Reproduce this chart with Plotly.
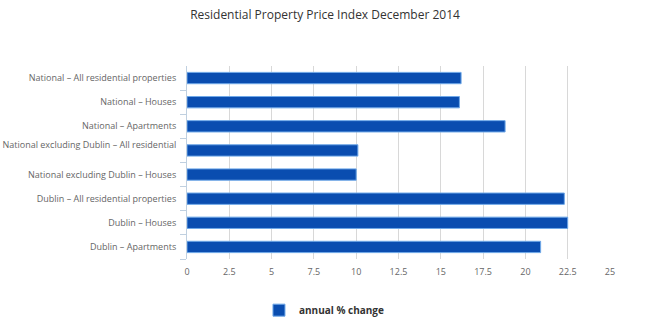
import plotly.graph_objects as go

categories = [
    "National – All residential properties",
    "National – Houses",
    "National – Apartments",
    "National excluding Dublin – All residential",
    "National excluding Dublin – Houses",
    "Dublin – All residential properties",
    "Dublin – Houses",
    "Dublin – Apartments",
]
values = [16.2, 16.1, 18.8, 10.1, 10.0, 22.3, 22.5, 20.9]
series_name = "annual % change"
x_ticks = [0, 2.5, 5, 7.5, 10, 12.5, 15, 17.5, 20, 22.5, 25]
x_tick_labels = ["0", "2.5", "5", "7.5", "10", "12.5", "15", "17.5", "20", "22.5", "25"]

tick_text = [c + "<br> " if c == "National excluding Dublin – All residential" else c for c in categories]

fig = go.Figure()
fig.add_trace(go.Bar(
    y=categories,
    x=values,
    orientation="h",
    name=series_name,
    width=0.47,
    marker=dict(color="#0a4db0", line=dict(color="#6fa8e8", width=1)),
    showlegend=True,
))

fig.update_layout(
    width=650, height=325,
    margin=dict(l=187, r=40, t=66, b=66, autoexpand=False),
    paper_bgcolor="white", plot_bgcolor="white",
    font=dict(family="Open Sans", color="#666666", size=9),
    title=dict(text="Residential Property Price Index December 2014",
               x=0.5, xanchor="center", y=0.955, yanchor="middle",
               font=dict(size=12, color="#333333", family="Open Sans")),
    showlegend=True,
    legend=dict(orientation="h", x=0.325, xanchor="center", y=-0.265, yanchor="middle",
                font=dict(size=10, color="#333333", family="Open Sans", weight="bold")),
    bargap=0.5,
)
fig.update_xaxes(range=[0, 25], tickvals=x_ticks, ticktext=x_tick_labels,
                 showgrid=True, gridcolor="#d8d8d8", gridwidth=1,
                 zeroline=False, showline=False, ticks="",
                 tickfont=dict(size=9, color="#666666"), fixedrange=True, automargin=False,
                 ticklabelstandoff=6)
fig.update_yaxes(categoryorder="array", categoryarray=categories[::-1],
                 tickvals=categories, ticktext=tick_text,
                 showline=True, linecolor="#c0d0e0", linewidth=1,
                 ticks="outside", ticklen=6, tickcolor="#c0d0e0", tickson="boundaries",
                 showgrid=False, tickfont=dict(size=9, color="#666666"),
                 automargin=False, ticklabelstandoff=8)

fig.write_html("out.html")
